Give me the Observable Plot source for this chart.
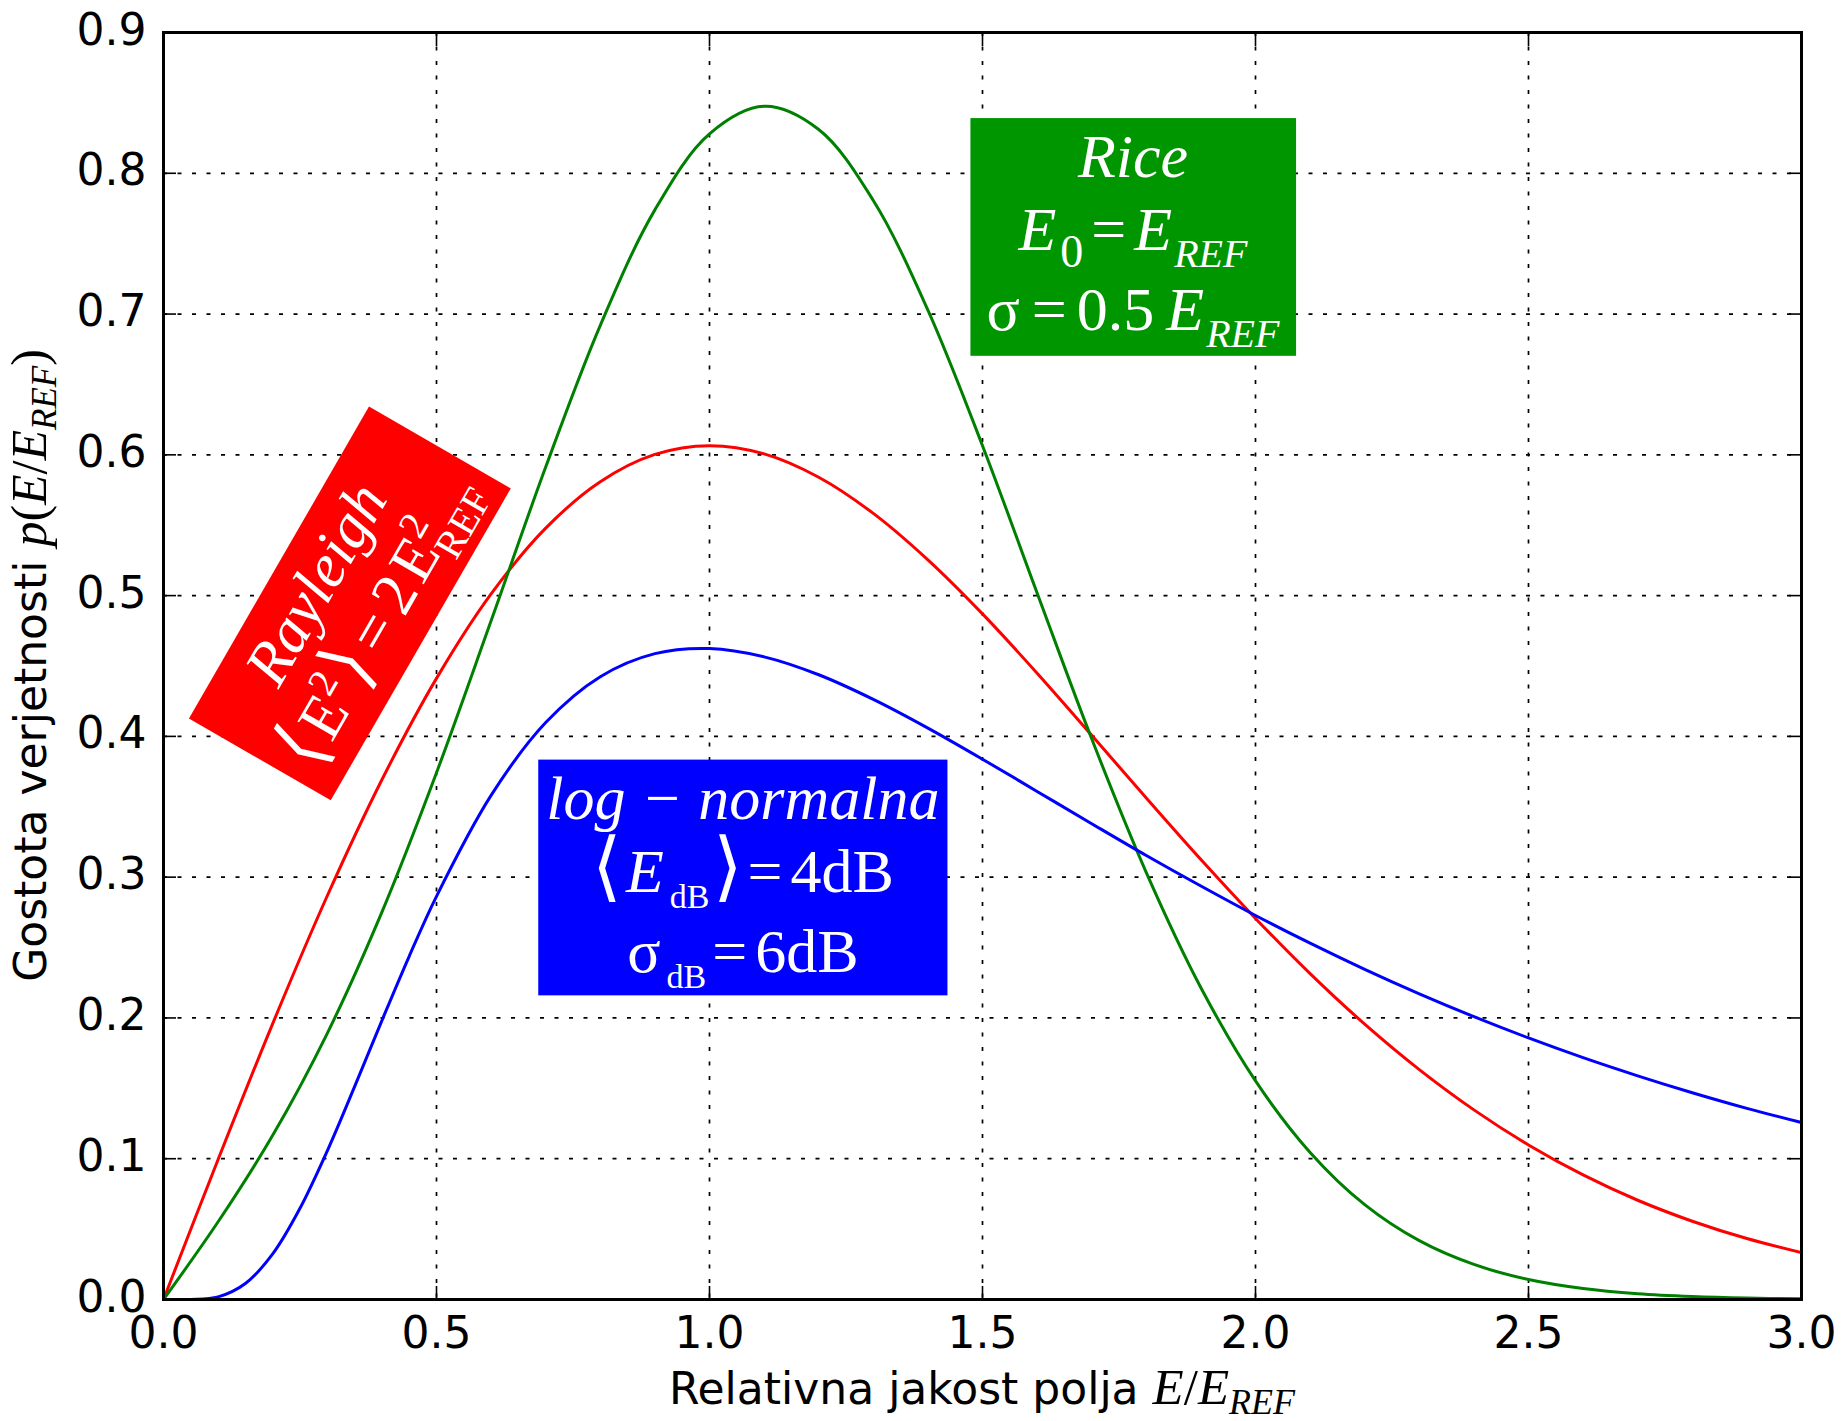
<!DOCTYPE html>
<html>
<head>
<meta charset="utf-8">
<script src="https://cdn.jsdelivr.net/npm/d3@7"></script>
<script src="https://cdn.jsdelivr.net/npm/@observablehq/plot@0.6"></script>
<style>
html, body { margin: 0; padding: 0; background: #ffffff; }
#chart svg { display: block; }
</style>
</head>
<body>
<div id="chart"></div>
<script>
// ---------- data ----------
const xValues = [0, 0.1, 0.2, 0.3, 0.4, 0.5, 0.6, 0.7, 0.8, 0.9, 1.0, 1.1, 1.2, 1.3, 1.4, 1.5,
  1.6, 1.7, 1.8, 1.9, 2.0, 2.1, 2.2, 2.3, 2.4, 2.5, 2.6, 2.7, 2.8, 2.9, 3.0];
const rayleighValues = [0, 0.0995, 0.1960, 0.2868, 0.3692, 0.4412, 0.5012, 0.5479, 0.5809, 0.6003,
  0.6065, 0.6007, 0.5841, 0.5584, 0.5254, 0.4870, 0.4449, 0.4008, 0.3562, 0.3125, 0.2707,
  0.2315, 0.1956, 0.1633, 0.1347, 0.1098, 0.0885, 0.0705, 0.0556, 0.0433, 0.0333];
const riceValues = [0, 0.0552, 0.1166, 0.1891, 0.2752, 0.3742, 0.4821, 0.5913, 0.6920, 0.7740,
  0.8280, 0.8476, 0.8311, 0.7807, 0.7028, 0.6065, 0.5019, 0.3983, 0.3033, 0.2215, 0.1553,
  0.1045, 0.0674, 0.0418, 0.0249, 0.0142, 0.0078, 0.0041, 0.0021, 0.0010, 0.0005];
const lognormalX = [0, 0.05, 0.1, 0.15, 0.2, 0.25, 0.3, 0.35, 0.4, 0.45, 0.5, 0.6, 0.7, 0.8, 0.9,
  1.0, 1.1, 1.2, 1.3, 1.4, 1.5, 1.6, 1.7, 1.8, 1.9, 2.0, 2.1, 2.2, 2.3, 2.4, 2.5, 2.6, 2.7, 2.8, 2.9, 3.0];
const lognormalValues = [0, 0.00004, 0.0019, 0.0114, 0.0324, 0.0648, 0.1056, 0.1512, 0.1981, 0.2438,
  0.2864, 0.3581, 0.4098, 0.4424, 0.4588, 0.4624, 0.4565, 0.4438, 0.4263, 0.4059, 0.3838,
  0.3609, 0.3380, 0.3154, 0.2937, 0.2728, 0.2531, 0.2345, 0.2171, 0.2009, 0.1858, 0.1718,
  0.1589, 0.1469, 0.1358, 0.1257];
const seriesNames = ["Rayleigh", "Rice", "log-normalna"];
const seriesColors = ["#ff0000", "#008000", "#0000ff"];
const xTicks = [0, 0.5, 1.0, 1.5, 2.0, 2.5, 3.0];
const yTicks = [0, 0.1, 0.2, 0.3, 0.4, 0.5, 0.6, 0.7, 0.8, 0.9];
const xLabelText = "Relativna jakost polja ";
const yLabelText = "Gostota verjetnosti ";

// annotation boxes (anchor = box centre, in data units)
const annotations = [
  { x: 0.347, y: 0.493, rotate: 60, fill: "#ff0000", pad: [17, 8, 2], lines: [
      [{t: "Rayleigh", k: "i"}],
      [{t: "⟨", k: "b"}, {t: "E", k: "r", dx: 3}, {t: "2", k: "sup", size: 40}, {t: "⟩", k: "b", dx: 3},
       {t: "=", k: "r", dx: 9}, {t: "2", k: "r", dx: 10}, {t: "E", k: "r", dx: 6},
       {t: "2", k: "sup", size: 40}, {t: "REF", k: "sub", size: 40, stack: true}]
  ]},
  { x: 1.062, y: 0.298, rotate: 0, fill: "#0000ff", pad: [8, 4, 0], lines: [
      [{t: "log − normalna", k: "i"}],
      [{t: "⟨", k: "b"}, {t: "E", k: "i", dx: 4}, {t: "dB", k: "sub", size: 34, dx: 6},
       {t: "⟩", k: "b", dx: 4}, {t: "=", k: "r", dx: 4}, {t: "4dB", k: "r", dx: 8}],
      [{t: "σ", k: "r"}, {t: "dB", k: "sub", size: 34, dx: 6}, {t: "=", k: "r", dx: 6}, {t: "6dB", k: "r", dx: 8}]
  ]},
  { x: 1.777, y: 0.753, rotate: 0, fill: "#009600", pad: [16, 4, 0], lines: [
      [{t: "Rice", k: "i"}],
      [{t: "E", k: "i"}, {t: "0", k: "sub", size: 46, dx: 4}, {t: "=", k: "r", dx: 8},
       {t: "E", k: "i", dx: 8}, {t: "REF", k: "subi", size: 40, dx: 2}],
      [{t: "σ", k: "r"}, {t: "=", k: "r", dx: 12}, {t: "0.5", k: "r", dx: 10},
       {t: "E", k: "i", dx: 12}, {t: "REF", k: "subi", size: 40, dx: 2}]
  ]}
];

// ---------- build table ----------
const table = [];
xValues.forEach((x, i) => table.push({series: seriesNames[0], x, y: rayleighValues[i]}));
xValues.forEach((x, i) => table.push({series: seriesNames[1], x, y: riceValues[i]}));
lognormalX.forEach((x, i) => table.push({series: seriesNames[2], x, y: lognormalValues[i]}));

const gridStyle = {stroke: "black", strokeOpacity: 1, strokeWidth: 1.7, strokeDasharray: "4,10.5"};
const tickStyle = {label: null, fill: "none", tickSize: 13, strokeWidth: 1.6};

const chart = Plot.plot({
  width: 1841,
  height: 1421,
  marginTop: 32,
  marginRight: 40,
  marginBottom: 122,
  marginLeft: 163,
  style: {background: "#ffffff", fontFamily: "'DejaVu Sans', sans-serif", fontSize: "44px", color: "black"},
  x: {domain: [0, 3], label: null},
  y: {domain: [0, 0.9], label: null},
  color: {domain: seriesNames, range: seriesColors},
  marks: [
    Plot.gridX(xTicks, gridStyle),
    Plot.gridY(yTicks, gridStyle),
    Plot.line(table, {x: "x", y: "y", z: "series", stroke: "series", strokeWidth: 3, curve: "catmull-rom", clip: true}),
    Plot.axisX(xTicks, {anchor: "bottom", tickSize: 0, tickPadding: 17, tickFormat: d3.format(".1f"), label: null, fontSize: 44}),
    Plot.axisY(yTicks, {anchor: "left", tickSize: 0, tickPadding: 17, tickFormat: d3.format(".1f"), label: null, fontSize: 44, dy: -2}),
    Plot.axisX(xTicks, {...tickStyle, anchor: "bottom", dy: -13}),
    Plot.axisX(xTicks, {...tickStyle, anchor: "top", dy: 13}),
    Plot.axisY(yTicks, {...tickStyle, anchor: "left", dx: 13}),
    Plot.axisY(yTicks, {...tickStyle, anchor: "right", dx: -13}),
    Plot.frame({stroke: "black", strokeWidth: 3})
  ]
});
document.getElementById("chart").appendChild(chart);

// ---------- rich text helpers ----------
const SERIF = "'Liberation Serif', 'Times New Roman', serif";
const FS = 62;
// appends one line of mixed-style tspans; if lineY is given the line starts a new chunk at (0, lineY)
function addSegments(textSel, segs, base, subShift = 0.27, lineY = null) {
  let off = 0;
  let lastSupLen = 0;
  segs.forEach((seg, idx) => {
    const ts = textSel.append("tspan").text(seg.t);
    let target = 0, size = base, italic = false, family = SERIF, weight = null;
    switch (seg.k) {
      case "i": italic = true; break;
      case "r": break;
      case "sub": size = seg.size; target = subShift * base; break;
      case "subi": size = seg.size; target = subShift * base; italic = true; break;
      case "sup": size = seg.size; target = -0.4 * base; break;
      case "b": size = base * 1.22; family = "'DejaVu Sans ExtraLight', 'DejaVu Sans', sans-serif"; weight = 200; break;
    }
    ts.style("font-size", size + "px").style("font-family", family)
      .style("font-style", italic ? "italic" : "normal");
    if (weight) ts.style("font-weight", weight);
    if (idx === 0 && lineY !== null) ts.attr("x", 0).attr("y", lineY);
    let dx = seg.dx || 0;
    if (seg.stack) dx -= lastSupLen;
    if (dx) ts.attr("dx", dx);
    if (target - off) ts.attr("dy", target - off);
    off = target;
    if (seg.k === "sup") lastSupLen = ts.node().getComputedTextLength();
  });
}

const xs = chart.scale("x"), ys = chart.scale("y");
const svg = d3.select(chart);

for (const ann of annotations) {
  const outer = svg.append("g")
    .attr("transform", `translate(${xs.apply(ann.x)},${ys.apply(ann.y)}) rotate(${-ann.rotate})`);
  const inner = outer.append("g");
  const rect = inner.append("rect").attr("fill", ann.fill);
  const text = inner.append("text").attr("fill", "white").attr("text-anchor", "middle");
  let y = 0;
  ann.lines.forEach((line) => {
    addSegments(text, line, FS, 0.27, y);
    const hasSub = line.some(s => s.k === "sub" || s.k === "subi");
    y += hasSub ? 80 : 73;
  });
  const bb = text.node().getBBox();
  const [padX, padTop, padBottom] = ann.pad;
  const cx = bb.x + bb.width / 2, cy = bb.y + bb.height / 2;
  inner.attr("transform", `translate(${-cx},${-cy})`);
  rect.attr("x", bb.x - padX).attr("y", bb.y - padTop)
    .attr("width", bb.width + 2 * padX).attr("height", bb.height + padTop + padBottom);
}

// ---------- axis labels ----------
const [x0, x1] = xs.range, [y0, y1] = ys.range;
const xl = svg.append("text")
  .attr("x", (x0 + x1) / 2).attr("y", 1404).attr("text-anchor", "middle").attr("fill", "black")
  .style("font-family", "'DejaVu Sans', sans-serif").style("font-size", "44px");
xl.append("tspan").text(xLabelText);
addSegments(xl, [{t: "E", k: "i"}, {t: "/", k: "r"}, {t: "E", k: "i"}, {t: "REF", k: "subi", size: 36}], 51, 0.2);

const yl = svg.append("text")
  .attr("transform", `translate(46,${(y0 + y1) / 2}) rotate(-90)`)
  .attr("text-anchor", "middle").attr("fill", "black")
  .style("font-family", "'DejaVu Sans', sans-serif").style("font-size", "44px");
yl.append("tspan").text(yLabelText);
addSegments(yl, [{t: "p", k: "i"}, {t: "(", k: "r"}, {t: "E", k: "i"}, {t: "/", k: "r"}, {t: "E", k: "i"},
  {t: "REF", k: "subi", size: 35}, {t: ")", k: "r"}], 50, 0.2);
</script>
</body>
</html>
